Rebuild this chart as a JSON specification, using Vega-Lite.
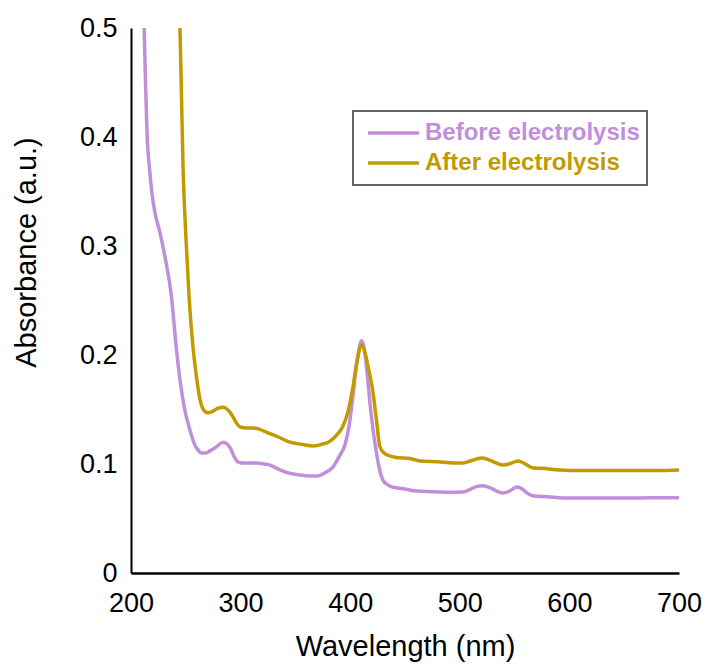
{
  "$schema": "https://vega.github.io/schema/vega-lite/v6.json",
  "width": 548,
  "height": 545,
  "autosize": {"type": "none"},
  "padding": {"left": 131, "top": 28, "right": 30, "bottom": 98},
  "background": "white",
  "config": {
    "view": {"stroke": null},
    "font": "Liberation Sans",
    "axis": {"grid": false, "ticks": false, "domainColor": "#000000", "domainWidth": 2.5, "labelFont": "Liberation Sans", "titleFont": "Liberation Sans", "labelColor": "#000000", "titleColor": "#000000", "titleFontWeight": "normal"}
  },
  "datasets": {
    "spectra": [
      {"wl": 211, "abs": 0.53, "series": "Before electrolysis"},
      {"wl": 212, "abs": 0.50, "series": "Before electrolysis"},
      {"wl": 213, "abs": 0.46, "series": "Before electrolysis"},
      {"wl": 214.6, "abs": 0.404, "series": "Before electrolysis"},
      {"wl": 217, "abs": 0.37, "series": "Before electrolysis"},
      {"wl": 219, "abs": 0.349, "series": "Before electrolysis"},
      {"wl": 222, "abs": 0.33, "series": "Before electrolysis"},
      {"wl": 226.5, "abs": 0.312, "series": "Before electrolysis"},
      {"wl": 231, "abs": 0.29, "series": "Before electrolysis"},
      {"wl": 237, "abs": 0.253, "series": "Before electrolysis"},
      {"wl": 241, "abs": 0.21, "series": "Before electrolysis"},
      {"wl": 244.7, "abs": 0.177, "series": "Before electrolysis"},
      {"wl": 249, "abs": 0.15, "series": "Before electrolysis"},
      {"wl": 253.8, "abs": 0.131, "series": "Before electrolysis"},
      {"wl": 258, "abs": 0.118, "series": "Before electrolysis"},
      {"wl": 261, "abs": 0.113, "series": "Before electrolysis"},
      {"wl": 264, "abs": 0.110, "series": "Before electrolysis"},
      {"wl": 267.5, "abs": 0.110, "series": "Before electrolysis"},
      {"wl": 272, "abs": 0.112, "series": "Before electrolysis"},
      {"wl": 277, "abs": 0.115, "series": "Before electrolysis"},
      {"wl": 282, "abs": 0.119, "series": "Before electrolysis"},
      {"wl": 285, "abs": 0.120, "series": "Before electrolysis"},
      {"wl": 288, "abs": 0.118, "series": "Before electrolysis"},
      {"wl": 291, "abs": 0.114, "series": "Before electrolysis"},
      {"wl": 294, "abs": 0.107, "series": "Before electrolysis"},
      {"wl": 297.6, "abs": 0.102, "series": "Before electrolysis"},
      {"wl": 302, "abs": 0.101, "series": "Before electrolysis"},
      {"wl": 308, "abs": 0.101, "series": "Before electrolysis"},
      {"wl": 315, "abs": 0.101, "series": "Before electrolysis"},
      {"wl": 321, "abs": 0.100, "series": "Before electrolysis"},
      {"wl": 327, "abs": 0.099, "series": "Before electrolysis"},
      {"wl": 333, "abs": 0.096, "series": "Before electrolysis"},
      {"wl": 340, "abs": 0.093, "series": "Before electrolysis"},
      {"wl": 347, "abs": 0.091, "series": "Before electrolysis"},
      {"wl": 354, "abs": 0.090, "series": "Before electrolysis"},
      {"wl": 362, "abs": 0.089, "series": "Before electrolysis"},
      {"wl": 370, "abs": 0.089, "series": "Before electrolysis"},
      {"wl": 377, "abs": 0.092, "series": "Before electrolysis"},
      {"wl": 384, "abs": 0.097, "series": "Before electrolysis"},
      {"wl": 390, "abs": 0.107, "series": "Before electrolysis"},
      {"wl": 395, "abs": 0.117, "series": "Before electrolysis"},
      {"wl": 399, "abs": 0.135, "series": "Before electrolysis"},
      {"wl": 402, "abs": 0.158, "series": "Before electrolysis"},
      {"wl": 405, "abs": 0.185, "series": "Before electrolysis"},
      {"wl": 408, "abs": 0.205, "series": "Before electrolysis"},
      {"wl": 410.5, "abs": 0.213, "series": "Before electrolysis"},
      {"wl": 413, "abs": 0.205, "series": "Before electrolysis"},
      {"wl": 416, "abs": 0.178, "series": "Before electrolysis"},
      {"wl": 418, "abs": 0.156, "series": "Before electrolysis"},
      {"wl": 421, "abs": 0.130, "series": "Before electrolysis"},
      {"wl": 424, "abs": 0.110, "series": "Before electrolysis"},
      {"wl": 427, "abs": 0.094, "series": "Before electrolysis"},
      {"wl": 430, "abs": 0.085, "series": "Before electrolysis"},
      {"wl": 434, "abs": 0.081, "series": "Before electrolysis"},
      {"wl": 438, "abs": 0.079, "series": "Before electrolysis"},
      {"wl": 443, "abs": 0.078, "series": "Before electrolysis"},
      {"wl": 450, "abs": 0.077, "series": "Before electrolysis"},
      {"wl": 455, "abs": 0.076, "series": "Before electrolysis"},
      {"wl": 463, "abs": 0.0752, "series": "Before electrolysis"},
      {"wl": 475, "abs": 0.0745, "series": "Before electrolysis"},
      {"wl": 490, "abs": 0.074, "series": "Before electrolysis"},
      {"wl": 503, "abs": 0.0743, "series": "Before electrolysis"},
      {"wl": 510, "abs": 0.077, "series": "Before electrolysis"},
      {"wl": 516, "abs": 0.0795, "series": "Before electrolysis"},
      {"wl": 521, "abs": 0.080, "series": "Before electrolysis"},
      {"wl": 528, "abs": 0.078, "series": "Before electrolysis"},
      {"wl": 534, "abs": 0.075, "series": "Before electrolysis"},
      {"wl": 539, "abs": 0.0734, "series": "Before electrolysis"},
      {"wl": 545, "abs": 0.075, "series": "Before electrolysis"},
      {"wl": 550, "abs": 0.078, "series": "Before electrolysis"},
      {"wl": 553, "abs": 0.079, "series": "Before electrolysis"},
      {"wl": 557, "abs": 0.077, "series": "Before electrolysis"},
      {"wl": 562, "abs": 0.073, "series": "Before electrolysis"},
      {"wl": 568, "abs": 0.0706, "series": "Before electrolysis"},
      {"wl": 580, "abs": 0.070, "series": "Before electrolysis"},
      {"wl": 594, "abs": 0.0688, "series": "Before electrolysis"},
      {"wl": 620, "abs": 0.0688, "series": "Before electrolysis"},
      {"wl": 650, "abs": 0.0688, "series": "Before electrolysis"},
      {"wl": 675, "abs": 0.069, "series": "Before electrolysis"},
      {"wl": 700, "abs": 0.069, "series": "Before electrolysis"},
      {"wl": 244, "abs": 0.52, "series": "After electrolysis"},
      {"wl": 244.7, "abs": 0.50, "series": "After electrolysis"},
      {"wl": 246, "abs": 0.44, "series": "After electrolysis"},
      {"wl": 247.5, "abs": 0.372, "series": "After electrolysis"},
      {"wl": 250, "abs": 0.31, "series": "After electrolysis"},
      {"wl": 253, "abs": 0.253, "series": "After electrolysis"},
      {"wl": 256.6, "abs": 0.207, "series": "After electrolysis"},
      {"wl": 260, "abs": 0.178, "series": "After electrolysis"},
      {"wl": 263, "abs": 0.159, "series": "After electrolysis"},
      {"wl": 266, "abs": 0.150, "series": "After electrolysis"},
      {"wl": 270, "abs": 0.147, "series": "After electrolysis"},
      {"wl": 274, "abs": 0.148, "series": "After electrolysis"},
      {"wl": 279, "abs": 0.151, "series": "After electrolysis"},
      {"wl": 284, "abs": 0.152, "series": "After electrolysis"},
      {"wl": 288.5, "abs": 0.1495, "series": "After electrolysis"},
      {"wl": 292, "abs": 0.145, "series": "After electrolysis"},
      {"wl": 296, "abs": 0.138, "series": "After electrolysis"},
      {"wl": 299.5, "abs": 0.134, "series": "After electrolysis"},
      {"wl": 305, "abs": 0.133, "series": "After electrolysis"},
      {"wl": 311, "abs": 0.133, "series": "After electrolysis"},
      {"wl": 315, "abs": 0.1325, "series": "After electrolysis"},
      {"wl": 324, "abs": 0.129, "series": "After electrolysis"},
      {"wl": 334, "abs": 0.125, "series": "After electrolysis"},
      {"wl": 345, "abs": 0.120, "series": "After electrolysis"},
      {"wl": 356, "abs": 0.118, "series": "After electrolysis"},
      {"wl": 366, "abs": 0.1165, "series": "After electrolysis"},
      {"wl": 374, "abs": 0.118, "series": "After electrolysis"},
      {"wl": 381.6, "abs": 0.121, "series": "After electrolysis"},
      {"wl": 388, "abs": 0.127, "series": "After electrolysis"},
      {"wl": 393, "abs": 0.134, "series": "After electrolysis"},
      {"wl": 398, "abs": 0.148, "series": "After electrolysis"},
      {"wl": 402.6, "abs": 0.171, "series": "After electrolysis"},
      {"wl": 406, "abs": 0.193, "series": "After electrolysis"},
      {"wl": 410.5, "abs": 0.209, "series": "After electrolysis"},
      {"wl": 414, "abs": 0.200, "series": "After electrolysis"},
      {"wl": 417, "abs": 0.186, "series": "After electrolysis"},
      {"wl": 420, "abs": 0.171, "series": "After electrolysis"},
      {"wl": 424, "abs": 0.140, "series": "After electrolysis"},
      {"wl": 427, "abs": 0.116, "series": "After electrolysis"},
      {"wl": 431, "abs": 0.110, "series": "After electrolysis"},
      {"wl": 434.5, "abs": 0.108, "series": "After electrolysis"},
      {"wl": 442, "abs": 0.106, "series": "After electrolysis"},
      {"wl": 454.6, "abs": 0.105, "series": "After electrolysis"},
      {"wl": 463.7, "abs": 0.1028, "series": "After electrolysis"},
      {"wl": 480, "abs": 0.102, "series": "After electrolysis"},
      {"wl": 495, "abs": 0.101, "series": "After electrolysis"},
      {"wl": 503, "abs": 0.101, "series": "After electrolysis"},
      {"wl": 510, "abs": 0.103, "series": "After electrolysis"},
      {"wl": 515, "abs": 0.1045, "series": "After electrolysis"},
      {"wl": 520, "abs": 0.1055, "series": "After electrolysis"},
      {"wl": 526, "abs": 0.104, "series": "After electrolysis"},
      {"wl": 533, "abs": 0.101, "series": "After electrolysis"},
      {"wl": 539, "abs": 0.099, "series": "After electrolysis"},
      {"wl": 545, "abs": 0.100, "series": "After electrolysis"},
      {"wl": 550, "abs": 0.102, "series": "After electrolysis"},
      {"wl": 553, "abs": 0.1028, "series": "After electrolysis"},
      {"wl": 558, "abs": 0.101, "series": "After electrolysis"},
      {"wl": 563, "abs": 0.098, "series": "After electrolysis"},
      {"wl": 567, "abs": 0.0963, "series": "After electrolysis"},
      {"wl": 575, "abs": 0.096, "series": "After electrolysis"},
      {"wl": 591, "abs": 0.0945, "series": "After electrolysis"},
      {"wl": 610, "abs": 0.094, "series": "After electrolysis"},
      {"wl": 628, "abs": 0.094, "series": "After electrolysis"},
      {"wl": 650, "abs": 0.094, "series": "After electrolysis"},
      {"wl": 680, "abs": 0.094, "series": "After electrolysis"},
      {"wl": 700, "abs": 0.0945, "series": "After electrolysis"}
    ]
  },
  "layer": [
    {
      "data": {"name": "spectra"},
      "mark": {"type": "line", "clip": true, "strokeWidth": 3.5, "interpolate": "monotone"},
      "encoding": {
        "x": {
          "field": "wl", "type": "quantitative",
          "scale": {"domain": [200, 700], "nice": false, "zero": false},
          "axis": {"values": [200, 300, 400, 500, 600, 700], "title": "Wavelength (nm)", "labelFontSize": 27, "titleFontSize": 29, "labelPadding": 17, "titleBaseline": "alphabetic", "titleY": 82, "labelFlush": false}
        },
        "y": {
          "field": "abs", "type": "quantitative",
          "scale": {"domain": [0, 0.5], "nice": false},
          "axis": {"values": [0, 0.1, 0.2, 0.3, 0.4, 0.5], "labelExpr": "datum.value == 0 ? '0' : format(datum.value, '.1f')", "title": "Absorbance (a.u.)", "labelFontSize": 27, "titleFontSize": 29, "labelPadding": 14, "titleBaseline": "alphabetic", "titleX": -96, "titleY": 224, "titleAlign": "center", "titleAngle": -90, "labelFlush": false, "domainWidth": 2}
        },
        "color": {
          "field": "series", "type": "nominal",
          "sort": ["Before electrolysis", "After electrolysis"],
          "scale": {"domain": ["Before electrolysis", "After electrolysis"], "range": ["#c08fdc", "#c29a00"]},
          "legend": {
            "title": null, "orient": "none", "legendX": 222, "legendY": 83,
            "symbolType": "stroke", "symbolSize": 2600, "symbolStrokeWidth": 3.5,
            "labelFontSize": 24, "labelFontWeight": "bold", "labelFont": "Liberation Sans", "labelOffset": 4, "labelLimit": 400,
            "clipHeight": 30, "symbolOffset": 6,
            "strokeColor": "#333333", "padding": 7, "rowPadding": 0,
            "encode": {
              "labels": {"update": {"fill": {"signal": "datum.value === 'Before electrolysis' ? '#c08fdc' : '#c29a00'"}}},
              "legend": {"update": {"strokeWidth": {"value": 1.5}}}
            }
          }
        }
      }
    },
    {
      "mark": {"type": "rule", "color": "#000000", "strokeWidth": 3},
      "encoding": {"x": {"datum": 700, "type": "quantitative"}}
    }
  ]
}
